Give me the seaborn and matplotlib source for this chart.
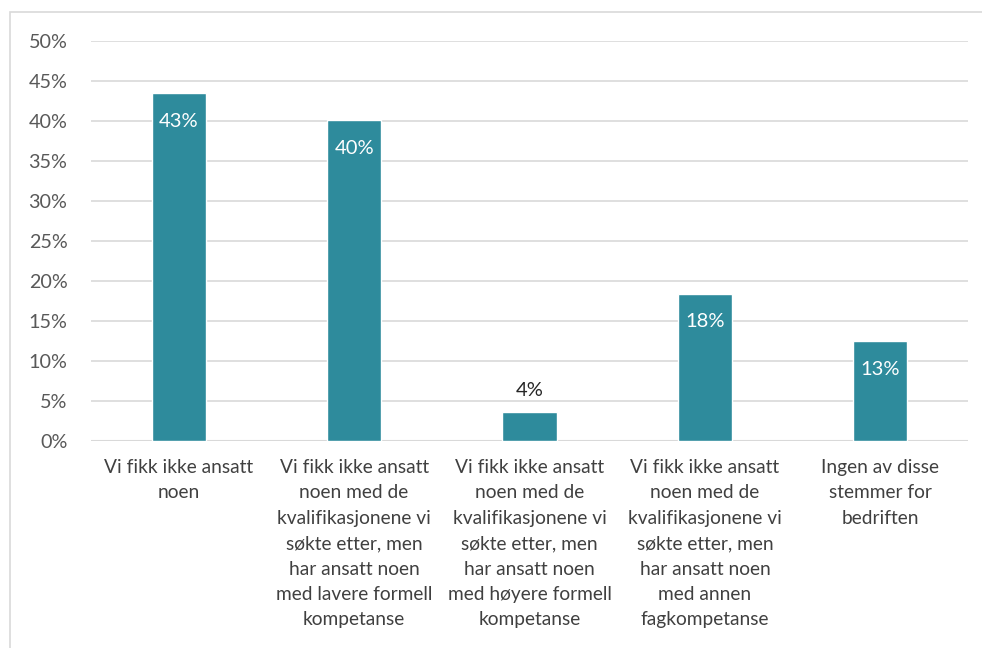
import matplotlib
matplotlib.use("Agg")
import matplotlib.pyplot as plt
import seaborn as sns
import pandas as pd
from matplotlib.patches import Rectangle

# Data
kategorier = [
    "Vi fikk ikke ansatt\nnoen",
    "Vi fikk ikke ansatt\nnoen med de\nkvalifikasjonene vi\nsøkte etter, men\nhar ansatt noen\nmed lavere formell\nkompetanse",
    "Vi fikk ikke ansatt\nnoen med de\nkvalifikasjonene vi\nsøkte etter, men\nhar ansatt noen\nmed høyere formell\nkompetanse",
    "Vi fikk ikke ansatt\nnoen med de\nkvalifikasjonene vi\nsøkte etter, men\nhar ansatt noen\nmed annen\nfagkompetanse",
    "Ingen av disse\nstemmer for\nbedriften",
]
andel = [43.5, 40.1, 3.6, 18.4, 12.5]
etiketter = ["43%", "40%", "4%", "18%", "13%"]
yticks = [0, 5, 10, 15, 20, 25, 30, 35, 40, 45, 50]

df = pd.DataFrame({"kategori": kategorier, "andel": andel})

sns.set_style("white")
plt.rcParams["font.family"] = ["Lato", "DejaVu Sans"]

fig = plt.figure(figsize=(9.82, 6.48), dpi=100)
ax = fig.add_axes([0.0927, 0.3194, 0.893, 0.6173])

farge = "#2e8b9c"
sns.barplot(data=df, x="kategori", y="andel", color=farge, width=0.31,
            saturation=1, ax=ax, zorder=3)

ax.set_ylim(0, 50)
ax.set_yticks(yticks)
ax.set_yticklabels([f"{t}%" for t in yticks], fontsize=14.2, color="#595959")
ax.set_xticks(range(len(kategorier)))
ax.set_xticklabels(kategorier, fontsize=13.8, color="#404040", linespacing=1.6)
ax.tick_params(axis="x", length=0, pad=13)
ax.tick_params(axis="y", length=0, pad=17)
ax.grid(axis="y", color="#d9d9d9", linewidth=1.2, zorder=0)
ax.set_xlabel("")
ax.set_ylabel("")
for s in ax.spines.values():
    s.set_visible(False)
ax.axhline(0, color="#d9d9d9", linewidth=1.5, zorder=2)

for i, (v, t) in enumerate(zip(andel, etiketter)):
    if v > 8:
        ax.text(i, v - 3.5, t, ha="center", va="center", fontsize=14.5, color="white", zorder=4)
    else:
        ax.text(i, v + 2.75, t, ha="center", va="center", fontsize=14.5, color="#262626", zorder=4)

# ramme rundt figuren
fig.patches.append(Rectangle((10 / 982, -0.01), 1.0, 1 - 12 / 648 + 0.01,
                             transform=fig.transFigure, fill=False,
                             edgecolor="#d9d9d9", linewidth=1.2))

fig.savefig("out.png", dpi=100)
